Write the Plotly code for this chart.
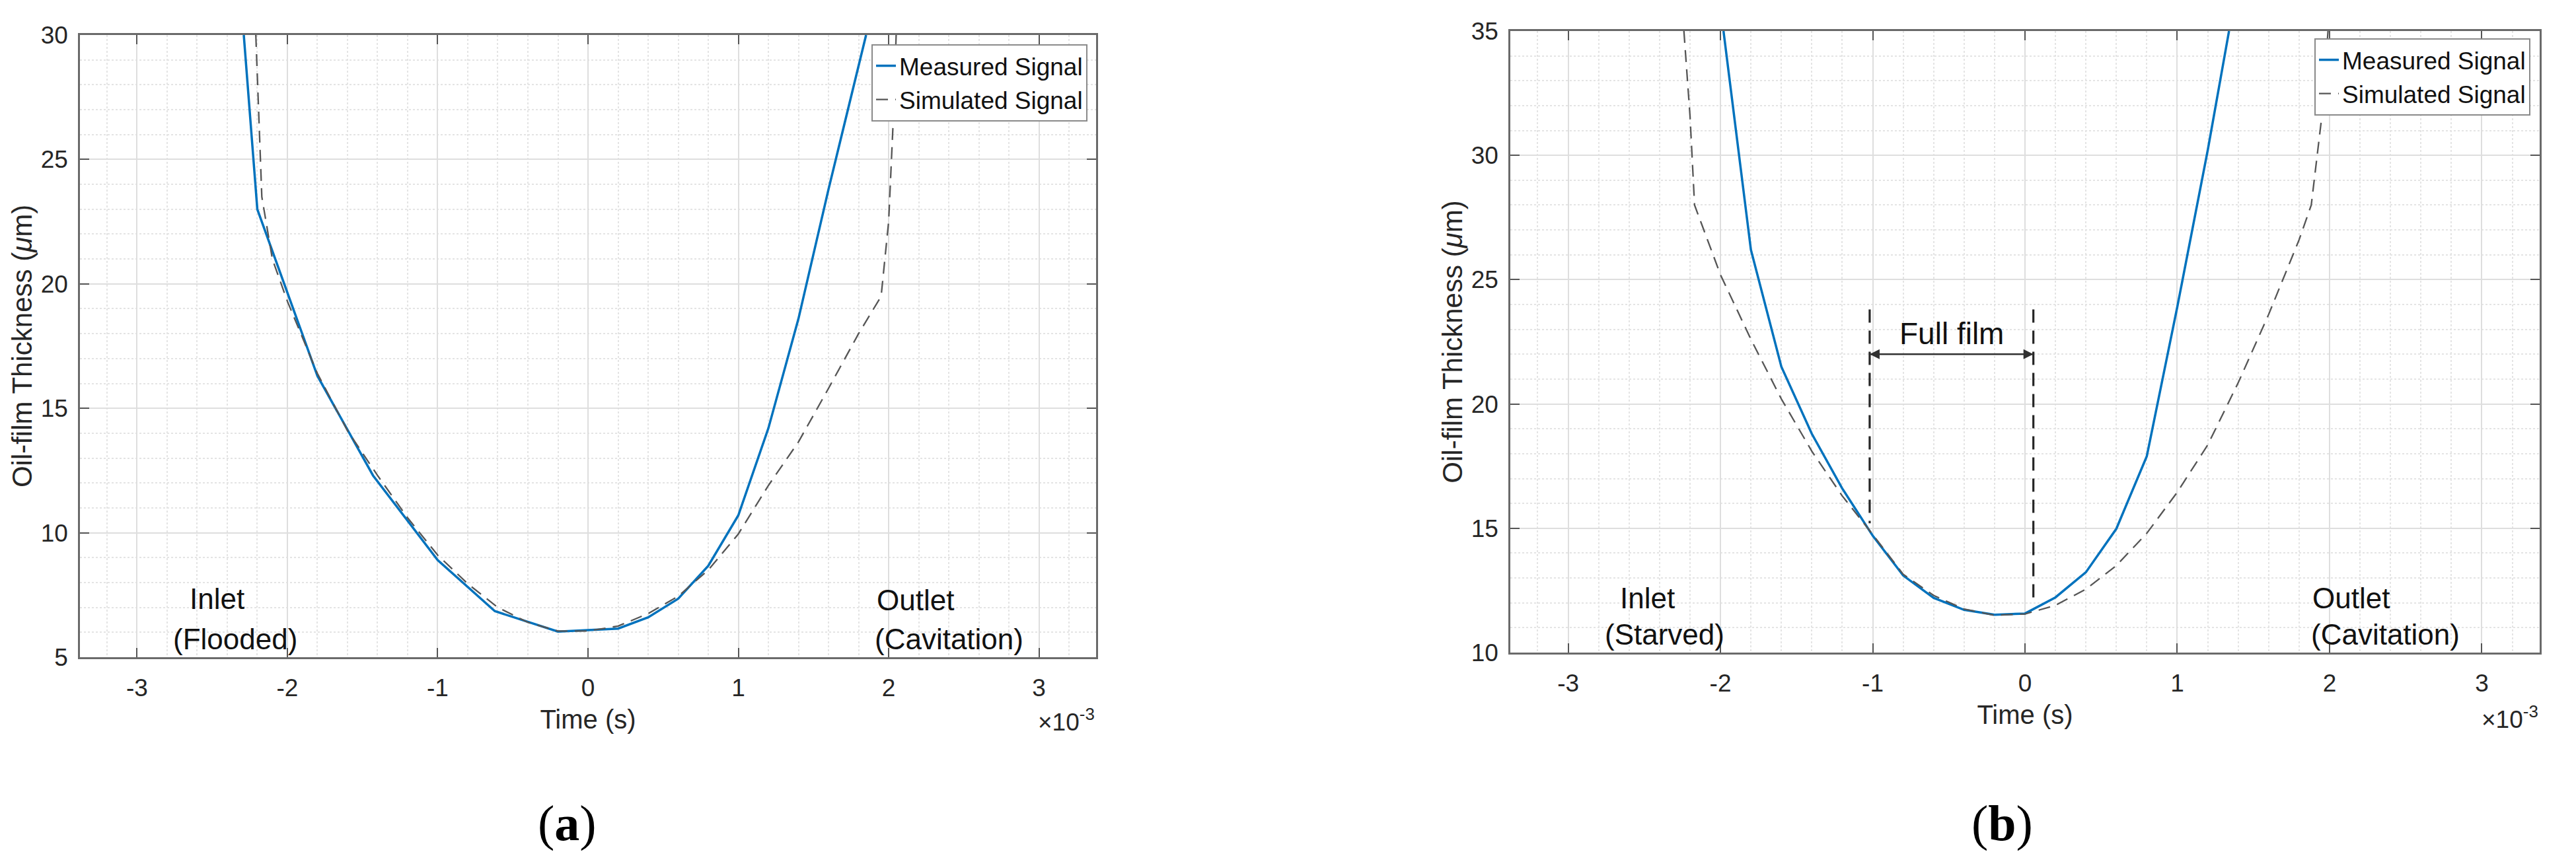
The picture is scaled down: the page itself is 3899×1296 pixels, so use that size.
import plotly.graph_objects as go

# ---------------- data (time in units of 1e-3 s, thickness in um) ----------------
t_a_meas = [-2.29, -2.2, -1.8, -1.43, -1.0, -0.62, -0.2, 0.0, 0.2, 0.4, 0.6, 0.8, 1.0, 1.2, 1.4, 1.6, 1.85]
h_a_meas = [30.0, 23.0, 16.3, 12.3, 8.9, 6.85, 6.03, 6.1, 6.15, 6.6, 7.35, 8.67, 10.7, 14.2, 18.6, 23.8, 30.0]

t_a_sim = [-2.21, -2.17, -2.1, -2.0, -1.8, -1.6, -1.4, -1.2, -1.0, -0.8, -0.6, -0.4, -0.2, 0.0,
           0.2, 0.4, 0.6, 0.8, 1.0, 1.2, 1.4, 1.6, 1.8, 1.95, 2.0, 2.03, 2.05]
h_a_sim = [30.0, 23.5, 21.0, 19.3, 16.4, 14.1, 12.3, 10.6, 9.1, 7.95, 7.0, 6.4, 6.05, 6.05,
           6.25, 6.75, 7.45, 8.5, 9.95, 11.9, 13.65, 15.8, 18.0, 19.5, 22.5, 26.5, 30.0]

t_b_meas = [-1.98, -1.8, -1.6, -1.4, -1.2, -1.0, -0.8, -0.6, -0.4, -0.2, 0.0, 0.2, 0.4, 0.6, 0.8, 1.0, 1.2, 1.34]
h_b_meas = [35.0, 26.2, 21.5, 18.8, 16.6, 14.7, 13.1, 12.2, 11.72, 11.52, 11.57, 12.22, 13.23, 14.98, 17.9, 23.9, 30.2, 35.0]

t_b_sim = [-2.24, -2.2, -2.17, -2.0, -1.8, -1.6, -1.4, -1.2, -1.0, -0.8, -0.6, -0.4, -0.2, 0.0,
           0.2, 0.4, 0.6, 0.8, 1.0, 1.2, 1.4, 1.6, 1.8, 1.88, 1.95, 1.99]
h_b_sim = [35.0, 31.6, 28.0, 25.2, 22.6, 20.2, 18.1, 16.3, 14.75, 13.15, 12.3, 11.75, 11.5, 11.55,
           11.9, 12.55, 13.5, 14.8, 16.45, 18.35, 20.85, 23.6, 26.6, 28.0, 31.6, 35.0]

# "Full film" region markers (panel b)
full_film_t = [-1.02, 0.055]
full_film_top = 23.8
full_film_bottom = [15.2, 12.15]
full_film_arrow_h = 22.0

x_ticks = [-3, -2, -1, 0, 1, 2, 3]
x_ticktext = ["-3", "-2", "-1", "0", "1", "2", "3"]
y_ticks_a = [5, 10, 15, 20, 25, 30]
y_ticks_b = [10, 15, 20, 25, 30, 35]
x_range = [-3.38, 3.38]
y_range_a = [5, 30]
y_range_b = [10, 35]

# ---------------- styling ----------------
W, H = 3899, 1296          # browser window
PAD = 8                    # default page body margin
FW, FH = W - 2 * PAD, H - 2 * PAD
BLUE = "#0072BD"
SIMC = "rgb(85,85,85)"
TXT = "#262626"
FONT = "Liberation Sans, Arial, Helvetica, sans-serif"
TICKF = 37


def px(xp):
    return (xp - PAD) / FW


def py(yp):
    return 1 - (yp - PAD) / FH


fig = go.Figure()

fig.add_trace(go.Scatter(x=t_a_meas, y=h_a_meas, mode="lines", name="Measured Signal",
                         line=dict(color=BLUE, width=3.5), xaxis="x", yaxis="y", legend="legend"))
fig.add_trace(go.Scatter(x=t_a_sim, y=h_a_sim, mode="lines", name="Simulated Signal",
                         line=dict(color=SIMC, width=2.3, dash="18px,11px"), xaxis="x", yaxis="y",
                         legend="legend"))
fig.add_trace(go.Scatter(x=t_b_meas, y=h_b_meas, mode="lines", name="Measured Signal",
                         line=dict(color=BLUE, width=3.5), xaxis="x2", yaxis="y2", legend="legend2"))
fig.add_trace(go.Scatter(x=t_b_sim, y=h_b_sim, mode="lines", name="Simulated Signal",
                         line=dict(color=SIMC, width=2.3, dash="18px,11px"), xaxis="x2", yaxis="y2",
                         legend="legend2"))
for tt, hb in zip(full_film_t, full_film_bottom):
    fig.add_trace(go.Scatter(x=[tt, tt], y=[full_film_top, hb], mode="lines", showlegend=False,
                             line=dict(color="#262626", width=3.2, dash="20px,12px"),
                             xaxis="x2", yaxis="y2", hoverinfo="skip"))
# double-headed arrow between the two full-film bounds
fig.add_trace(go.Scatter(x=full_film_t, y=[full_film_arrow_h, full_film_arrow_h], mode="lines+markers",
                         showlegend=False, hoverinfo="skip", xaxis="x2", yaxis="y2",
                         line=dict(color="#303030", width=2.5),
                         marker=dict(symbol=["arrow-left", "arrow-right"], size=15, color="#303030",
                                     line=dict(width=0))))


def xax(domain, anchor):
    return dict(domain=domain, anchor=anchor, range=x_range, tickmode="array", tickvals=x_ticks,
                ticktext=x_ticktext, ticks="inside", ticklen=14, tickwidth=2, tickcolor="#555",
                showline=True, linecolor="#6a6a6a", linewidth=2.5, mirror="ticks", automargin=False,
                showgrid=True, gridcolor="rgb(222,222,222)", gridwidth=1.5, zeroline=False,
                minor=dict(dtick=0.2, tick0=0, showgrid=True, gridcolor="rgb(228,228,228)",
                           griddash="dot", gridwidth=1.5, ticks=""),
                tickfont=dict(size=TICKF, color=TXT, family=FONT), ticklabelstandoff=12,
                title=dict(text="Time (s)", font=dict(size=40, color=TXT, family=FONT), standoff=14))


def yax(domain, anchor, rng, tv):
    return dict(domain=domain, anchor=anchor, range=rng, tickmode="array", tickvals=tv,
                ticks="inside", ticklen=14, tickwidth=2, tickcolor="#555", automargin=False,
                showline=True, linecolor="#6a6a6a", linewidth=2.5, mirror="ticks",
                showgrid=True, gridcolor="rgb(222,222,222)", gridwidth=1.5, zeroline=False,
                minor=dict(dtick=1, tick0=0, showgrid=True, gridcolor="rgb(228,228,228)",
                           griddash="dot", gridwidth=1.5, ticks=""),
                tickfont=dict(size=TICKF, color=TXT, family=FONT), ticklabelstandoff=8,
                title=dict(text="Oil-film Thickness (<i>\u03bc</i>m)",
                           font=dict(size=42, color=TXT, family=FONT), standoff=0))


xa_dom = [px(121), px(1659)]
ya_dom = [py(995), py(53)]
xb_dom = [px(2286), px(3844)]
yb_dom = [py(988), py(47)]


def leg(xr, yt):
    return dict(x=xr, y=yt, xanchor="right", yanchor="top", bgcolor="white",
                bordercolor="#8a8a8a", borderwidth=2, font=dict(size=37, color="#111", family=FONT),
                tracegroupgap=0, itemwidth=30)


annos = []


def txt(x, y, s, xref, yref, size=44, xanchor="left", yanchor="middle", family=FONT, color="#111"):
    annos.append(dict(x=x, y=y, xref=xref, yref=yref, text=s, showarrow=False, xanchor=xanchor,
                      yanchor=yanchor, font=dict(size=size, color=color, family=family)))


# panel a labels
txt(-2.66, 7.34, "Inlet", "x", "y")
txt(-2.77, 5.74, "(Flooded)", "x", "y")
txt(1.91, 7.3, "Outlet", "x", "y")
txt(1.90, 5.73, "(Cavitation)", "x", "y")
# panel b labels
txt(-2.67, 12.2, "Inlet", "x2", "y2")
txt(-2.77, 10.74, "(Starved)", "x2", "y2")
txt(1.88, 12.2, "Outlet", "x2", "y2")
txt(1.87, 10.74, "(Cavitation)", "x2", "y2")
txt(-0.48, 22.83, "Full film", "x2", "y2", size=46, xanchor="center")
# exponent labels
txt(xa_dom[1], py(1090), "\u00d710<sup>-3</sup>", "paper", "paper", size=37, xanchor="right", color=TXT)
txt(xb_dom[1], py(1086), "\u00d710<sup>-3</sup>", "paper", "paper", size=37, xanchor="right", color=TXT)
# captions
txt(px(858), py(1246), "(<b>a</b>)", "paper", "paper", size=76, xanchor="center",
    family="Liberation Serif, Times New Roman, serif", color="black")
txt(px(3030), py(1246), "(<b>b</b>)", "paper", "paper", size=76, xanchor="center",
    family="Liberation Serif, Times New Roman, serif", color="black")

fig.update_layout(
    width=FW, height=FH, autosize=False, margin=dict(l=0, r=0, t=0, b=0, autoexpand=False),
    paper_bgcolor="white", plot_bgcolor="white",
    font=dict(family=FONT, color=TXT),
    xaxis=xax(xa_dom, "y"), yaxis=yax(ya_dom, "x", y_range_a, y_ticks_a),
    xaxis2=xax(xb_dom, "y2"), yaxis2=yax(yb_dom, "x2", y_range_b, y_ticks_b),
    legend=leg(px(1646), py(67)), legend2=leg(px(3830), py(58)),
    annotations=annos, showlegend=True,
)

fig.write_html("out.html")
